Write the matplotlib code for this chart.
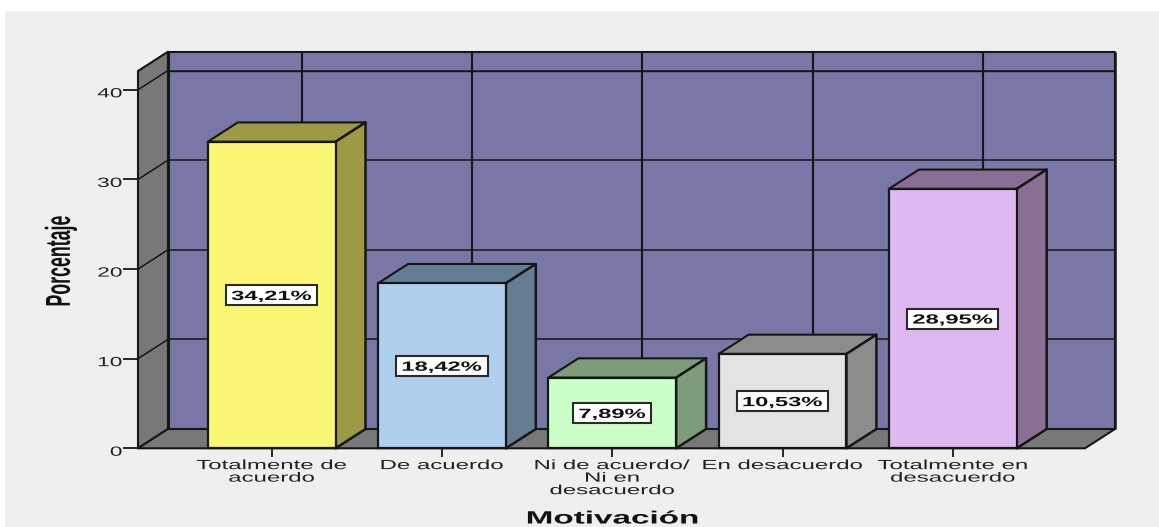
import matplotlib
matplotlib.use("Agg")
import matplotlib.patheffects as pe
import matplotlib.pyplot as plt
from matplotlib.patches import Polygon, Rectangle
from matplotlib.transforms import Affine2D, IdentityTransform

categories = ["Totalmente de\nacuerdo", "De acuerdo", "Ni de acuerdo/\nNi en\ndesacuerdo",
              "En desacuerdo", "Totalmente en\ndesacuerdo"]
values = [34.21, 18.42, 7.89, 10.53, 28.95]
value_labels = ["34,21%", "18,42%", "7,89%", "10,53%", "28,95%"]
y_ticks = [0, 10, 20, 30, 40]
front_colours = ["#FBF774", "#AECFEE", "#CBFFC8", "#E3E3E3", "#DEB8F1"]
side_colours = ["#9C9A45", "#657D93", "#7D9C7A", "#8C8C8C", "#8B6E93"]

WALL = "#7877A6"
FLOOR = "#787878"
BG = "#EFEFEF"
LINE = "#161616"
FONT = "Liberation Sans"

W, H = 1159, 527
X_MIN, X_MAX = -0.785, 4.776
Y_MIN, Y_MAX = 0, 42.1
DX, DY = 0.176, 2.15   # 3D depth in data units
BAR_W = 0.75


class Stretch(pe.AbstractPathEffect):
    # the reference is a screenshot squeezed vertically, so text is wider than normal
    def __init__(self, k, anchor="center", dy=0):
        super().__init__()
        self.k = k
        self.anchor = anchor
        self.dy = dy

    def draw_path(self, renderer, gc, tpath, affine, rgbFace=None):
        ext = tpath.transformed(affine).get_extents()
        x0 = ext.x1 if self.anchor == "right" else (ext.x0 + ext.x1) / 2
        stretched = affine + Affine2D().translate(-x0, 0).scale(self.k, 1).translate(x0, self.dy)
        renderer.draw_path(gc, tpath, stretched, rgbFace)


fig = plt.figure(figsize=(W / 100, H / 100), dpi=100, facecolor="white")
fig.add_artist(Rectangle((5 / W, 0), (W - 5) / W, (H - 11) / H, transform=fig.transFigure,
                         facecolor=BG, edgecolor="none", zorder=-5))

ax = fig.add_axes([138 / W, (H - 448.3) / H, (1085 - 138) / W, (448.3 - 71) / H])
ax.patch.set_visible(False)
ax.set_xlim(X_MIN, X_MAX)
ax.set_ylim(Y_MIN, Y_MAX)
for s in ax.spines.values():
    s.set_visible(False)


def poly(pts, fc, z, lw=1.5):
    ax.add_patch(Polygon(pts, closed=True, facecolor=fc, edgecolor=LINE, linewidth=lw,
                         joinstyle="round", zorder=z, clip_on=False))


def gridline(xs, ys, lw=1.1):
    ax.plot(xs, ys, color=LINE, linewidth=lw, zorder=2, clip_on=False, solid_capstyle="butt")


# walls and floor
poly([(X_MIN + DX, DY), (X_MAX + DX, DY), (X_MAX + DX, Y_MAX + DY), (X_MIN + DX, Y_MAX + DY)], WALL, 1)
poly([(X_MIN, 0), (X_MIN + DX, DY), (X_MIN + DX, Y_MAX + DY), (X_MIN, Y_MAX)], FLOOR, 1)
poly([(X_MIN, 0), (X_MAX, 0), (X_MAX + DX, DY), (X_MIN + DX, DY)], FLOOR, 1)

for t in y_ticks[1:]:
    gridline([X_MIN, X_MIN + DX], [t, t + DY])
    gridline([X_MIN + DX, X_MAX + DX], [t + DY, t + DY])
gridline([X_MIN + DX, X_MAX + DX], [Y_MAX, Y_MAX], lw=1.0)
gridline([X_MIN + DX, X_MIN + DX], [DY, Y_MAX + DY], lw=2.2)
gridline([X_MAX + DX, X_MAX + DX], [DY, Y_MAX + DY], lw=1.8)
for i in range(len(categories)):
    gridline([i + DX, i + DX], [DY, Y_MAX + DY], lw=1.5)

# bars
for i, v in enumerate(values):
    x0, x1 = i - BAR_W / 2, i + BAR_W / 2
    z = 3 + i
    ax.bar(i, v, width=BAR_W, color=front_colours[i], edgecolor=LINE, linewidth=1.6, zorder=z + 0.2, clip_on=False)
    poly([(x0, v), (x1, v), (x1 + DX, v + DY), (x0 + DX, v + DY)], side_colours[i], z)
    poly([(x1, 0), (x1 + DX, DY), (x1 + DX, v + DY), (x1, v)], side_colours[i], z, lw=1.8)

# axes ticks and labels
ax.set_xticks(range(len(categories)))
ax.set_xticklabels(categories, fontfamily=FONT, fontsize=9.6, color="#222222", linespacing=1.06)
ax.set_yticks(y_ticks)
ax.set_yticklabels([str(t) for t in y_ticks], fontfamily=FONT, fontsize=9.6, color="#222222")
ax.tick_params(axis="x", length=6.5, width=1.3, color=LINE, pad=2.0)
ax.tick_params(axis="y", length=10.8, width=1.3, color=LINE, pad=0.7)
for lab in ax.get_xticklabels():
    lab.set_path_effects([Stretch(1.8)])
for lab in ax.get_yticklabels():
    lab.set_path_effects([Stretch(1.7, anchor="right", dy=-3)])

fig.text(612.5 / W, 1 - 519 / H, "Motivación", fontfamily=FONT, fontweight="bold", fontsize=12.8,
         ha="center", va="center", color="#111111", path_effects=[Stretch(1.87)])
fig.text(61 / W, 1 - 261 / H, "Porcentaje", fontfamily=FONT, fontweight="bold", fontsize=12.8,
         rotation=90, ha="center", va="center", color="#111111", path_effects=[Stretch(1.95)])

# value labels in white boxes
K_VAL = 1.78
texts = []
for i, v in enumerate(values):
    t = ax.text(i, v / 2, value_labels[i], fontfamily=FONT, fontweight="bold", fontsize=9.6,
                ha="center", va="center", color="#111111", zorder=21,
                path_effects=[Stretch(K_VAL, dy=-2)])
    texts.append(t)

fig.canvas.draw()
renderer = fig.canvas.get_renderer()
for t, (i, v) in zip(texts, enumerate(values)):
    w = t.get_window_extent(renderer).width * K_VAL + 10
    h = 20
    cx, cy = ax.transData.transform((i, v / 2))
    ax.add_patch(Rectangle((cx - w / 2, cy - h / 2), w, h, transform=IdentityTransform(),
                           facecolor="white", edgecolor="#2A2A2A", linewidth=1.5, zorder=20, clip_on=False))

fig.savefig("out.png", dpi=100)
